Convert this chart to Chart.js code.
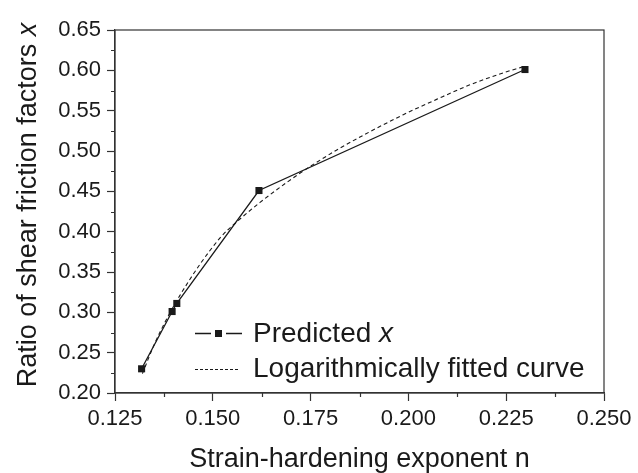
<!DOCTYPE html>
<html>
<head>
<meta charset="utf-8">
<script src="https://cdn.jsdelivr.net/npm/chart.js@4"></script>
<style>
  html, body { margin: 0; padding: 0; background: #fff; }
  #wrap { width: 638px; height: 473px; position: relative; }
</style>
</head>
<body>
<div id="wrap"><canvas id="grafico"></canvas></div>
<script>
// strain-hardening exponent n vs predicted ratio x
const nPredicted = [0.1318, 0.1396, 0.1408, 0.1618, 0.2298];
const xPredicted = [0.230, 0.301, 0.311, 0.451, 0.601];

// logarithmically fitted curve
const nFitted = [0.1320, 0.1352, 0.1416, 0.1518, 0.1561, 0.1620, 0.1689, 0.1740, 0.1816, 0.1902, 0.1987, 0.2072, 0.2157, 0.2243, 0.2290];
const xFitted = [0.224, 0.262, 0.321, 0.392, 0.412, 0.436, 0.461, 0.478, 0.501, 0.524, 0.545, 0.564, 0.582, 0.597, 0.604];

// labelled (major) ticks
const xTickLabels = ['0.125', '0.150', '0.175', '0.200', '0.225', '0.250'];
const yTickLabels = ['0.20', '0.25', '0.30', '0.35', '0.40', '0.45', '0.50', '0.55', '0.60', '0.65'];

const FONT = '"Liberation Sans", Arial, Helvetica, sans-serif';
const INK = '#1a1a1a';
const AXIS = '#333';

function majorLabel(labels, v) {
  const hit = labels.find(l => Math.abs(parseFloat(l) - v) < 1e-6);
  return hit === undefined ? '' : hit;
}

const extras = {
  id: 'extras',
  afterDraw(chart) {
    const { ctx, chartArea: a, scales } = chart;
    ctx.save();
    // frame
    ctx.strokeStyle = AXIS;
    ctx.lineWidth = 1.2;
    ctx.strokeRect(a.left, a.top, a.right - a.left, a.bottom - a.top);

    // minor ticks (outward, shorter)
    ctx.beginPath();
    scales.x.ticks.forEach(t => {
      if (majorLabel(xTickLabels, t.value) === '') {
        const px = Math.round(scales.x.getPixelForValue(t.value)) + 0.5;
        ctx.moveTo(px, a.bottom); ctx.lineTo(px, a.bottom + 4);
      }
    });
    scales.y.ticks.forEach(t => {
      if (majorLabel(yTickLabels, t.value) === '') {
        const py = Math.round(scales.y.getPixelForValue(t.value)) + 0.5;
        ctx.moveTo(a.left, py); ctx.lineTo(a.left - 4, py);
      }
    });
    ctx.stroke();

    // axis titles
    ctx.fillStyle = INK;
    ctx.font = '27px ' + FONT;
    ctx.textAlign = 'center';
    ctx.textBaseline = 'alphabetic';
    ctx.fillText('Strain-hardening exponent n', (a.left + a.right) / 2, 467);

    const p1 = 'Ratio of shear friction factors ';
    const w1 = ctx.measureText(p1).width;
    ctx.font = 'italic 27px ' + FONT;
    const w2 = ctx.measureText('x').width;
    ctx.save();
    ctx.translate(36, 205);
    ctx.rotate(-Math.PI / 2);
    ctx.textAlign = 'left';
    ctx.font = '27px ' + FONT;
    ctx.fillText(p1, -(w1 + w2) / 2, 0);
    ctx.font = 'italic 27px ' + FONT;
    ctx.fillText('x', -(w1 + w2) / 2 + w1, 0);
    ctx.restore();

    // legend
    ctx.strokeStyle = INK;
    ctx.lineWidth = 1.3;
    ctx.setLineDash([]);
    ctx.beginPath();
    ctx.moveTo(195, 333.5); ctx.lineTo(211, 333.5);
    ctx.moveTo(226, 333.5); ctx.lineTo(242, 333.5);
    ctx.stroke();
    ctx.fillRect(215, 330, 7, 7);
    ctx.lineWidth = 1;
    ctx.setLineDash([3, 2]);
    ctx.beginPath();
    ctx.moveTo(195, 369.5); ctx.lineTo(240, 369.5);
    ctx.stroke();
    ctx.setLineDash([]);

    ctx.textAlign = 'left';
    ctx.font = '28px ' + FONT;
    const lp = 'Predicted ';
    ctx.fillText(lp, 253, 342);
    const wl = ctx.measureText(lp).width;
    ctx.font = 'italic 28px ' + FONT;
    ctx.fillText('x', 253 + wl, 342);
    ctx.font = '28px ' + FONT;
    ctx.fillText('Logarithmically fitted curve', 253, 377);
    ctx.restore();
  }
};

const ctx = document.getElementById('grafico').getContext('2d');

const grafico = new Chart(ctx, {
  type: 'line',
  data: {
    datasets: [{
      label: 'Predicted x',
      data: nPredicted.map((n, i) => ({ x: n, y: xPredicted[i] })),
      borderColor: INK,
      backgroundColor: INK,
      borderWidth: 1.3,
      pointStyle: 'rect',
      pointRadius: 5,
      pointBorderWidth: 0,
      tension: 0
    }, {
      label: 'Logarithmically fitted curve',
      data: nFitted.map((n, i) => ({ x: n, y: xFitted[i] })),
      borderColor: INK,
      borderWidth: 1.1,
      borderDash: [4, 3],
      pointRadius: 0,
      cubicInterpolationMode: 'monotone'
    }]
  },
  options: {
    responsive: true,
    maintainAspectRatio: false,
    animation: false,
    events: [],
    layout: { padding: { top: 30, right: 34, bottom: 0, left: 0 } },
    scales: {
      x: {
        type: 'linear',
        min: 0.125,
        max: 0.25,
        afterFit: s => { s.height = 80; },
        border: { display: true, color: AXIS, width: 1.2 },
        grid: {
          drawOnChartArea: false,
          tickLength: 8,
          tickWidth: 1.2,
          tickColor: c => majorLabel(xTickLabels, c.tick.value) ? AXIS : 'rgba(0,0,0,0)'
        },
        ticks: {
          stepSize: 0.0125,
          autoSkip: false,
          maxRotation: 0,
          padding: 5,
          color: INK,
          font: { family: FONT, size: 22 },
          callback: v => majorLabel(xTickLabels, v)
        }
      },
      y: {
        min: 0.2,
        max: 0.65,
        afterFit: s => { s.width = 115; },
        border: { display: true, color: AXIS, width: 1.2 },
        grid: {
          drawOnChartArea: false,
          tickLength: 8,
          tickWidth: 1.2,
          tickColor: c => majorLabel(yTickLabels, c.tick.value) ? AXIS : 'rgba(0,0,0,0)'
        },
        ticks: {
          stepSize: 0.025,
          autoSkip: false,
          padding: 6,
          color: INK,
          font: { family: FONT, size: 22 },
          callback: v => majorLabel(yTickLabels, v)
        }
      }
    },
    plugins: {
      legend: { display: false },
      tooltip: { enabled: false }
    }
  },
  plugins: [extras]
});
</script>
</body>
</html>
